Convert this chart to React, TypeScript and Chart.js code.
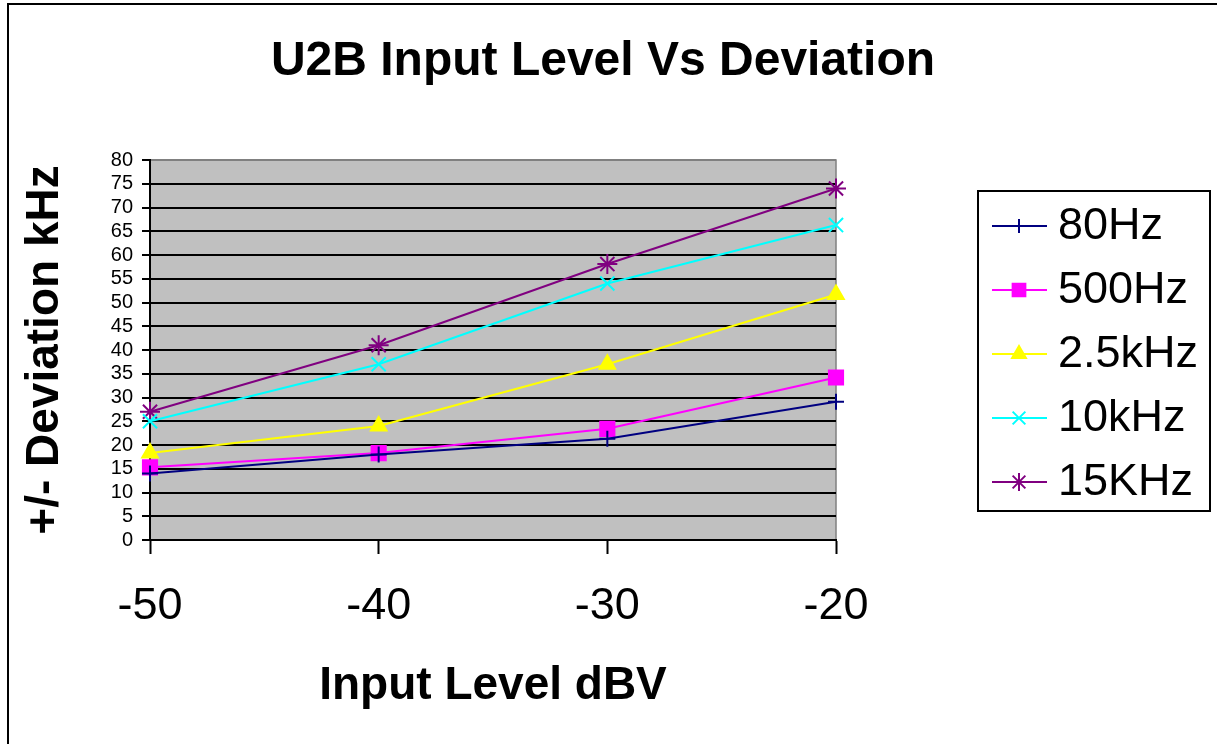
import React, { useEffect, useRef } from 'react';
import { Chart, registerables } from 'chart.js';
import { drawPoint } from 'chart.js/helpers';

Chart.register(...registerables);

const chartTitle = 'U2B Input Level Vs Deviation';
const xAxisTitle = 'Input Level dBV';
const yAxisTitle = '+/- Deviation kHz';

const inputLevels = [-50, -40, -30, -20];
const dev80Hz = [14, 18, 21.3, 29.1];
const dev500Hz = [15.3, 18.3, 23.4, 34.2];
const dev2500Hz = [18.3, 24, 37, 51.7];
const dev10kHz = [25, 37, 54, 66.3];
const dev15kHz = [27, 41, 58.1, 74];

const seriesNames = ['80Hz', '500Hz', '2.5kHz', '10kHz', '15KHz'];
const seriesValues = [dev80Hz, dev500Hz, dev2500Hz, dev10kHz, dev15kHz];
const seriesColors = ['#000080', '#FF00FF', '#FFFF00', '#00FFFF', '#800080'];
const seriesMarkers = ['cross', 'rect', 'triangle', 'crossRot', 'star'];
const seriesRadii = [8, 10, 9, 10, 10];

const FONT = '"Liberation Sans", Arial, Helvetica, sans-serif';

const decorPlugin = {
  id: 'decor',
  beforeDraw(chart: any) {
    const { ctx, chartArea: a } = chart;
    ctx.save();
    ctx.fillStyle = '#ffffff';
    ctx.fillRect(0, 0, chart.width, chart.height);
    // outer frame
    ctx.strokeStyle = '#000000';
    ctx.lineWidth = 2;
    ctx.beginPath();
    ctx.moveTo(8, chart.height + 2);
    ctx.lineTo(8, 4);
    ctx.lineTo(chart.width + 2, 4);
    ctx.stroke();
    // plot area
    ctx.fillStyle = '#C0C0C0';
    ctx.fillRect(a.left, a.top, a.right - a.left, a.bottom - a.top);
    ctx.strokeStyle = '#808080';
    ctx.lineWidth = 1.5;
    ctx.strokeRect(a.left, a.top, a.right - a.left, a.bottom - a.top);
    // title
    ctx.fillStyle = '#000000';
    ctx.font = `bold 48px ${FONT}`;
    ctx.textAlign = 'center';
    ctx.textBaseline = 'middle';
    ctx.fillText(chartTitle, 603, 62);
    ctx.restore();
  },
  afterDraw(chart: any) {
    const { ctx } = chart;
    ctx.save();
    ctx.strokeStyle = '#000000';
    ctx.lineWidth = 2;
    ctx.strokeRect(978, 191, 232, 320);
    chart.data.datasets.forEach((ds: any, i: number) => {
      const y = 226 + i * 64;
      ctx.strokeStyle = ds.borderColor;
      ctx.lineWidth = 2;
      ctx.beginPath();
      ctx.moveTo(992, y);
      ctx.lineTo(1047, y);
      ctx.stroke();
      ctx.fillStyle = ds.pointBackgroundColor;
      ctx.strokeStyle = ds.pointBorderColor;
      ctx.lineWidth = 2;
      drawPoint(ctx, { pointStyle: ds.pointStyle, radius: ds.pointRadius - 1, rotation: 0, borderWidth: 2 } as any, 1019, y);
      ctx.fillStyle = '#000000';
      ctx.font = `45px ${FONT}`;
      ctx.textAlign = 'left';
      ctx.textBaseline = 'middle';
      ctx.fillText(ds.label, 1058, y + 1);
    });
    ctx.restore();
  },
};

export default function App() {
  const canvasRef = useRef<HTMLCanvasElement | null>(null);

  useEffect(() => {
    const canvas = canvasRef.current;
    if (!canvas) return;
    const datasets = seriesNames.map((name, i) => ({
      label: name,
      data: inputLevels.map((x, j) => ({ x, y: seriesValues[i][j] })),
      borderColor: seriesColors[i],
      backgroundColor: seriesColors[i],
      pointBackgroundColor: seriesColors[i],
      pointBorderColor: seriesColors[i],
      pointStyle: seriesMarkers[i],
      pointRadius: seriesRadii[i],
      pointBorderWidth: 2,
      borderWidth: 2,
      tension: 0,
      fill: false,
      clip: false as any,
    }));
    const chart = new Chart(canvas, {
      type: 'line',
      data: { datasets },
      plugins: [decorPlugin],
      options: {
        responsive: false,
        animation: false,
        devicePixelRatio: 1,
        layout: { padding: { top: 160, right: 381, bottom: 0, left: 0 } },
        plugins: {
          legend: { display: false },
          title: { display: false },
          tooltip: { enabled: false },
        },
        scales: {
          x: {
            type: 'linear',
            min: -50,
            max: -20,
            afterFit: (s: any) => { s.height = 204; },
            ticks: {
              stepSize: 10,
              color: '#000',
              padding: 26,
              autoSkip: false,
              font: { family: FONT, size: 45 },
            },
            grid: {
              drawOnChartArea: false,
              drawTicks: true,
              tickLength: 14,
              tickColor: '#000',
              tickWidth: 2,
              color: '#000',
            },
            border: { display: true, color: '#000', width: 2 },
            title: {
              display: true,
              text: xAxisTitle,
              color: '#000',
              font: { family: FONT, size: 46, weight: 'bold' },
              padding: { top: 0, bottom: 30 },
            },
          },
          y: {
            type: 'linear',
            min: 0,
            max: 80,
            afterFit: (s: any) => { s.width = 150; },
            ticks: {
              stepSize: 5,
              color: '#000',
              padding: 9,
              autoSkip: false,
              font: { family: FONT, size: 20 },
            },
            grid: {
              color: (c: any) => (c.tick && c.tick.value === 80 ? '#808080' : '#000000'),
              lineWidth: 2,
              tickColor: '#000',
              tickLength: 8,
              tickWidth: 2,
            },
            border: { display: true, color: '#000', width: 2 },
            title: {
              display: true,
              text: yAxisTitle,
              color: '#000',
              font: { family: FONT, size: 46, weight: 'bold' },
              padding: { top: 18, bottom: 0 },
            },
          },
        },
      } as any,
    });
    return () => chart.destroy();
  }, []);

  return (
    <div style={{ position: 'absolute', left: 0, top: 0, width: 1217, height: 744, background: '#fff' }}>
      <canvas ref={canvasRef} width={1217} height={744} style={{ display: 'block' }} />
    </div>
  );
}
